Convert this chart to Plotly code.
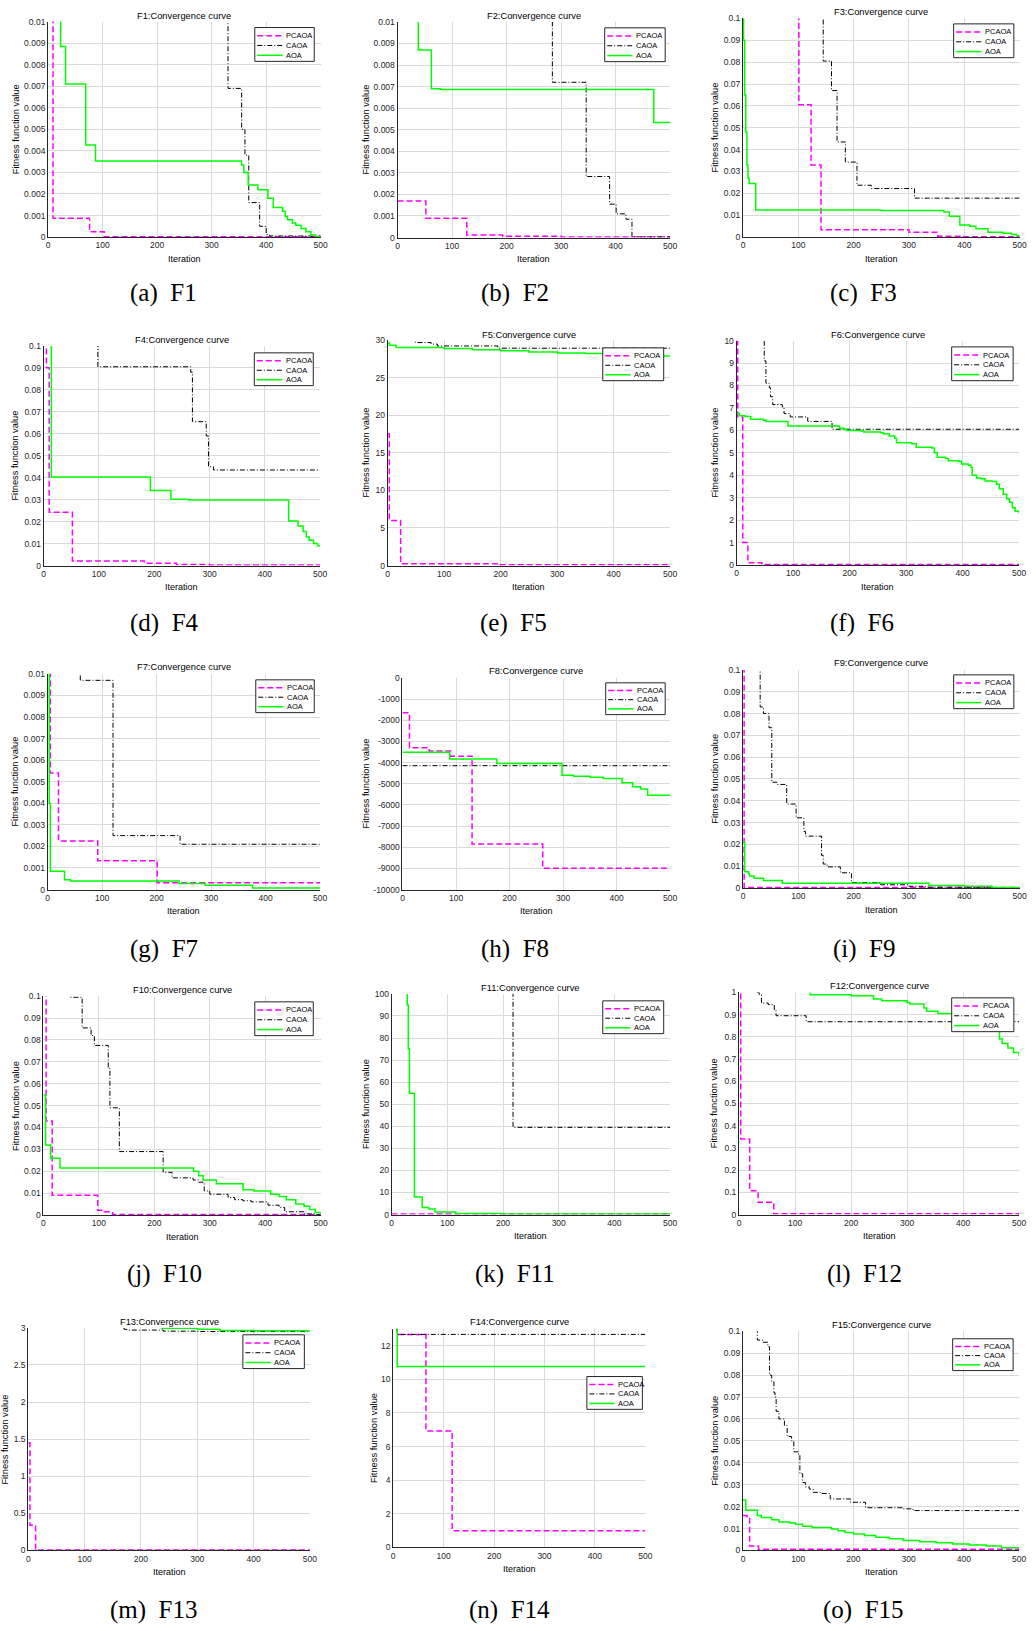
import plotly.graph_objects as go

W, H = 1036, 1631

FUNCS = ["F1", "F2", "F3", "F4", "F5", "F6", "F7", "F8", "F9", "F10", "F11", "F12", "F13", "F14", "F15"]
LETTERS = ["a", "b", "c", "d", "e", "f", "g", "h", "i", "j", "k", "l", "m", "n", "o"]
ALGOS = ["PCAOA", "CAOA", "AOA"]
X_TICKS = [0, 100, 200, 300, 400, 500]

# ---- step data: (iteration, best fitness) breakpoints ----
F1_PCAOA = [(0, 0.02), (9, 0.00087), (76, 0.00025), (103, 0.00002), (500, 0.00001)]
F1_CAOA = [(0, 0.02), (330, 0.0069), (355, 0.005), (361, 0.0038), (368, 0.0016), (388, 0.0005),
           (400, 0.00012), (406, 0.00005), (500, 0.00005)]
F1_AOA = [(0, 0.02), (23, 0.00885), (32, 0.0071), (69, 0.00427), (87, 0.00353), (355, 0.00335),
          (359, 0.003), (367, 0.00242), (385, 0.0022), (403, 0.0018), (413, 0.00137), (430, 0.0012),
          (435, 0.00095), (439, 0.0008), (448, 0.00065), (454, 0.00055), (464, 0.0004), (473, 0.00025),
          (482, 0.0001), (491, 0.00002), (500, 0.00002)]

F2_PCAOA = [(0, 0.0017), (52, 0.0009), (127, 0.00012), (193, 0.00006), (300, 0.00003), (500, 0.00003)]
F2_CAOA = [(0, 0.02), (284, 0.0072), (346, 0.00283), (389, 0.00155), (401, 0.0011), (419, 0.00085),
           (430, 0.00003), (500, 0.00003)]
F2_AOA = [(0, 0.02), (38, 0.0087), (62, 0.0069), (79, 0.00686), (470, 0.00534), (500, 0.00534)]

F3_PCAOA = [(0, 0.2), (101, 0.0605), (123, 0.033), (141, 0.0033), (300, 0.0022), (352, 0.0004),
            (395, 0.0001), (500, 0.0001)]
F3_CAOA = [(0, 0.2), (145, 0.0805), (160, 0.067), (170, 0.0435), (185, 0.0343), (206, 0.0237),
           (232, 0.0222), (310, 0.0178), (500, 0.0178)]
F3_AOA = [(0, 0.2), (1, 0.09), (3, 0.065), (5, 0.048), (7, 0.033), (9, 0.027), (11, 0.0245),
          (23, 0.0124), (250, 0.0122), (363, 0.0115), (373, 0.0095), (392, 0.0055), (410, 0.005),
          (421, 0.0038), (443, 0.0022), (470, 0.0018), (485, 0.0012), (495, 0.0006), (500, 0.0006)]

F4_PCAOA = [(0, 0.2), (5, 0.09), (10, 0.0243), (52, 0.0021), (182, 0.0011), (240, 0.0005),
            (300, 0.0003), (500, 0.0003)]
F4_CAOA = [(0, 0.2), (98, 0.0905), (266, 0.088), (269, 0.0655), (294, 0.059), (298, 0.045),
           (307, 0.0435), (500, 0.0435)]
F4_AOA = [(0, 0.2), (14, 0.0403), (193, 0.0342), (230, 0.0302), (262, 0.0298), (443, 0.0203),
          (460, 0.018), (469, 0.0155), (475, 0.013), (480, 0.0115), (488, 0.01), (495, 0.009), (500, 0.009)]

F5_PCAOA = [(0, 17.5), (3, 6.0), (23, 0.25), (200, 0.1), (500, 0.1)]
F5_CAOA = [(0, 31), (49, 29.65), (77, 29.45), (88, 29.2), (195, 28.9), (500, 28.9)]
F5_AOA = [(0, 29.6), (3, 29.3), (15, 29.0), (100, 28.85), (150, 28.7), (200, 28.55), (250, 28.4),
          (300, 28.25), (350, 28.2), (400, 28.1), (450, 28.0), (480, 27.85), (500, 27.8)]

F6_PCAOA = [(0, 12), (2, 6.6), (11, 1.0), (20, 0.1), (45, 0.02), (500, 0.02)]
F6_CAOA = [(0, 15), (48, 10), (49, 9.1), (52, 8.1), (58, 7.9), (60, 7.5), (64, 7.15), (81, 7.05),
           (84, 6.75), (95, 6.6), (126, 6.4), (169, 6.05), (500, 6.05)]
F6_AOA = [(0, 6.75), (5, 6.65), (15, 6.62), (25, 6.5), (48, 6.45), (52, 6.4), (91, 6.2), (182, 6.1),
          (190, 6.05), (195, 6.0), (220, 5.97), (225, 5.93), (255, 5.9), (260, 5.85), (270, 5.75),
          (280, 5.65), (283, 5.45), (310, 5.4), (318, 5.25), (346, 5.22), (350, 5.0), (355, 4.8),
          (370, 4.75), (375, 4.65), (393, 4.62), (398, 4.5), (410, 4.45), (415, 4.35), (417, 4.0),
          (425, 3.88), (432, 3.85), (440, 3.75), (452, 3.72), (460, 3.6), (465, 3.4), (472, 3.15),
          (478, 2.95), (483, 2.8), (488, 2.55), (493, 2.4), (500, 2.3)]

F7_PCAOA = [(0, 0.02), (5, 0.0054), (20, 0.00225), (92, 0.00133), (201, 0.00032), (500, 0.00032)]
F7_CAOA = [(0, 0.02), (60, 0.0097), (120, 0.0025), (243, 0.0021), (500, 0.0021)]
F7_AOA = [(0, 0.02), (3, 0.004), (5, 0.00085), (31, 0.00045), (42, 0.0004), (241, 0.00028),
          (289, 0.0002), (376, 0.00007), (500, 0.00007)]

F8_PCAOA = [(0, -1650), (13, -3300), (50, -3450), (90, -3700), (130, -7850), (262, -9000), (500, -9000)]
F8_CAOA = [(0, -4150), (500, -4150)]
F8_AOA = [(0, -3520), (88, -3830), (176, -4050), (298, -4600), (320, -4650), (350, -4700),
          (375, -4750), (410, -4950), (430, -5150), (445, -5250), (458, -5550), (500, -5550)]

F9_PCAOA = [(0, 0.2), (2, 0.0002), (500, 0.0001)]
F9_CAOA = [(0, 0.2), (31, 0.083), (37, 0.080), (47, 0.0735), (52, 0.0485), (61, 0.0475), (79, 0.0385),
           (96, 0.0322), (110, 0.026), (113, 0.0238), (142, 0.015), (145, 0.011), (152, 0.0097),
           (176, 0.007), (196, 0.0025), (249, 0.0015), (300, 0.0008), (330, 0.0004), (400, 0.0001),
           (500, 0.0001)]
F9_AOA = [(0, 0.021), (3, 0.0075), (10, 0.0065), (12, 0.0055), (20, 0.0045), (37, 0.0035),
          (71, 0.0022), (336, 0.0012), (400, 0.0008), (450, 0.0002), (500, 0.0002)]

F10_PCAOA = [(0, 0.2), (5, 0.043), (16, 0.009), (98, 0.0022), (110, 0.0015), (125, 0.0003), (500, 0.0003)]
F10_CAOA = [(0, 0.2), (48, 0.0995), (70, 0.0855), (86, 0.082), (92, 0.0775), (117, 0.067), (120, 0.049),
            (137, 0.029), (216, 0.0195), (232, 0.017), (270, 0.016), (280, 0.015), (290, 0.011),
            (300, 0.0095), (333, 0.008), (345, 0.007), (360, 0.0065), (375, 0.006), (405, 0.0045),
            (425, 0.0035), (435, 0.0015), (470, 0.0005), (490, 0.0001), (500, 0.0001)]
F10_AOA = [(0, 0.055), (4, 0.032), (13, 0.026), (30, 0.0215), (271, 0.02), (280, 0.018), (288, 0.016),
           (312, 0.0143), (360, 0.0115), (380, 0.011), (410, 0.0095), (425, 0.0085), (438, 0.007),
           (455, 0.005), (470, 0.004), (480, 0.0025), (490, 0.0012), (500, 0.0002)]

F11_PCAOA = [(0, 0.2), (500, 0.2)]
F11_CAOA = [(0, 200), (218, 39.5), (500, 39.5)]
F11_AOA = [(0, 200), (28, 95), (30, 75), (32, 55), (41, 8), (55, 3.2), (67, 2.5), (78, 1.2),
           (115, 0.5), (200, 0.3), (500, 0.3)]

F12_PCAOA = [(0, 2), (3, 0.34), (19, 0.107), (34, 0.055), (62, 0.003), (500, 0.003)]
F12_CAOA = [(0, 2), (30, 1.0), (36, 0.99), (40, 0.952), (52, 0.945), (63, 0.92), (66, 0.895),
            (120, 0.868), (500, 0.868)]
F12_AOA = [(0, 2), (127, 0.99), (200, 0.985), (240, 0.97), (255, 0.963), (300, 0.955), (305, 0.948),
           (330, 0.93), (335, 0.915), (355, 0.905), (380, 0.9), (400, 0.88), (420, 0.86), (440, 0.84),
           (455, 0.83), (465, 0.79), (470, 0.77), (480, 0.75), (490, 0.73), (500, 0.715)]

F13_PCAOA = [(0, 1.45), (3, 0.34), (13, 0.005), (500, 0.005)]
F13_CAOA = [(0, 4), (170, 2.98), (175, 2.97), (240, 2.955), (300, 2.95), (500, 2.95)]
F13_AOA = [(0, 4), (238, 2.995), (300, 2.98), (340, 2.965), (400, 2.96), (500, 2.96)]

F14_PCAOA = [(0, 14), (8, 12.67), (65, 6.93), (117, 1.0), (500, 1.0)]
F14_CAOA = [(0, 14), (8, 12.67), (500, 12.67)]
F14_AOA = [(0, 14), (8, 10.76), (500, 10.76)]

F15_PCAOA = [(0, 0.016), (7, 0.0155), (10, 0.015), (12, 0.002), (28, 0.0005), (500, 0.0005)]
F15_CAOA = [(0, 0.2), (26, 0.096), (36, 0.095), (45, 0.093), (48, 0.08), (52, 0.077), (56, 0.072),
            (58, 0.07), (60, 0.0635), (65, 0.06), (75, 0.057), (80, 0.052), (88, 0.05), (92, 0.045),
            (100, 0.044), (103, 0.035), (108, 0.031), (113, 0.029), (120, 0.028), (127, 0.0265),
            (140, 0.026), (158, 0.0235), (195, 0.022), (222, 0.0195), (290, 0.019), (308, 0.0182),
            (500, 0.0182)]
F15_AOA = [(0, 0.023), (5, 0.0183), (26, 0.016), (33, 0.015), (52, 0.014), (65, 0.013), (85, 0.0125),
           (95, 0.012), (108, 0.011), (125, 0.0105), (160, 0.0098), (172, 0.009), (185, 0.0082),
           (200, 0.0075), (220, 0.0068), (240, 0.006), (265, 0.0053), (290, 0.0045), (320, 0.004),
           (350, 0.0035), (380, 0.003), (410, 0.0025), (440, 0.002), (468, 0.0012), (500, 0.0012)]

Y_RANGES = [[0, 0.01], [0, 0.01], [0, 0.1], [0, 0.1], [0, 30], [0, 10], [0, 0.01], [-10000, 0],
            [0, 0.1], [0, 0.1], [0, 100], [0, 1], [0, 3], [0, 13], [0, 0.1]]
Y_DTICKS = [0.001, 0.001, 0.01, 0.01, 5, 1, 0.001, 1000, 0.01, 0.01, 10, 0.1, 0.5, 2, 0.01]
F8_TICKS = [-10000, -9000, -8000, -7000, -6000, -5000, -4000, -3000, -2000, -1000, 0]

SERIES = [
    (F1_PCAOA, F1_CAOA, F1_AOA), (F2_PCAOA, F2_CAOA, F2_AOA), (F3_PCAOA, F3_CAOA, F3_AOA),
    (F4_PCAOA, F4_CAOA, F4_AOA), (F5_PCAOA, F5_CAOA, F5_AOA), (F6_PCAOA, F6_CAOA, F6_AOA),
    (F7_PCAOA, F7_CAOA, F7_AOA), (F8_PCAOA, F8_CAOA, F8_AOA), (F9_PCAOA, F9_CAOA, F9_AOA),
    (F10_PCAOA, F10_CAOA, F10_AOA), (F11_PCAOA, F11_CAOA, F11_AOA), (F12_PCAOA, F12_CAOA, F12_AOA),
    (F13_PCAOA, F13_CAOA, F13_AOA), (F14_PCAOA, F14_CAOA, F14_AOA), (F15_PCAOA, F15_CAOA, F15_AOA),
]

# ---- layout (pixels): plot boxes (left, right, top, bottom) ----
PANELS = [
    (46.5, 321.5, 16.7, 233.5), (399, 674, 17, 234), (747.5, 1026.5, 13.5, 233.5),
    (42, 321, 343, 564), (389, 674, 337, 564), (741, 1026, 337.7, 563.5),
    (46, 321, 673, 890), (404, 674, 677, 890), (747.5, 1026.5, 669, 888.5),
    (41.7, 321.5, 997.3, 1217.5), (393, 674, 995, 1217), (743.5, 1026, 993.5, 1217),
    (26.5, 310.6, 1331, 1555), (394.6, 649, 1332, 1552), (747.5, 1026, 1334.5, 1555),
]
TITLE_Y = [11, 11, 6.7, 337, 332, 332, 666, 670, 662, 991, 989, 987, 1325, 1325, 1328]
YLABEL_X = [14, 367, 719, 13, 367, 719, 13, 367, 719, 13.5, 367, 719, 3.5, 375, 719]
CAPTION_Y = [290, 290, 290, 622, 622, 622, 950, 950, 950, 1277, 1277, 1277, 1615, 1615, 1615]
CAPTION_X = [163, 517, 869, 164, 516, 868, 163, 517, 870, 164, 517, 870, 153, 512, 869]
LEGEND_BOX = [
    (255, 22.7, 315, 56.7), (608, 23, 669, 57), (960, 19, 1020.7, 53),
    (254.5, 350, 314, 383), (606, 345, 667.5, 378), (958, 344, 1020, 378),
    (256, 679, 315, 712), (609, 682, 669, 714), (960, 674, 1020.7, 708),
    (255, 1003, 314, 1037), (606, 1002, 667.5, 1035), (958, 999, 1020.7, 1033),
    (243, 1338, 305, 1372), (590, 1380, 646, 1413), (959, 1342, 1020, 1374),
]

STYLES = {
    "PCAOA": dict(color="#ff00ff", width=1.5, dash="6px,3px"),
    "CAOA": dict(color="#000000", width=1.0, dash="5px,2px,1px,2px"),
    "AOA": dict(color="#00ff00", width=1.5, dash="solid"),
}

AX_COLOR = "#262626"
GRID_COLOR = "#dadada"
SANS = "Liberation Sans, Arial, sans-serif"


def px(x):
    return x / W


def py(y):
    return 1 - y / H


fig = go.Figure()
layout = dict(width=W, height=H, margin=dict(l=0, r=0, t=0, b=0),
              paper_bgcolor="white", plot_bgcolor="white", showlegend=False)
annotations = []
shapes = []

for i, fname in enumerate(FUNCS):
    n = i + 1
    xs = "x" if n == 1 else f"x{n}"
    ys = "y" if n == 1 else f"y{n}"
    xa = "xaxis" if n == 1 else f"xaxis{n}"
    ya = "yaxis" if n == 1 else f"yaxis{n}"
    l, r, t, b = PANELS[i]

    for algo, steps in zip(ALGOS, SERIES[i]):
        fig.add_trace(go.Scatter(
            x=[p[0] for p in steps], y=[p[1] for p in steps],
            xaxis=xs, yaxis=ys, mode="lines", name=algo,
            line=dict(shape="hv", **STYLES[algo]), showlegend=False, hoverinfo="skip"))

    layout[xa] = dict(domain=[px(l), px(r)], anchor=ys, range=[0, 500], tickvals=X_TICKS,
                      showgrid=True, gridcolor=GRID_COLOR, gridwidth=1, zeroline=False,
                      showline=True, linecolor=AX_COLOR, linewidth=1, ticks="",
                      tickfont=dict(family=SANS, size=8.5, color=AX_COLOR))
    y0, y1 = Y_RANGES[i]
    yax = dict(domain=[py(b), py(t)], anchor=xs, range=[y0, y1], tick0=0, dtick=Y_DTICKS[i],
               showgrid=True, gridcolor=GRID_COLOR, gridwidth=1, zeroline=False,
               showline=True, linecolor=AX_COLOR, linewidth=1, ticks="",
               exponentformat="none", separatethousands=False,
               tickfont=dict(family=SANS, size=8.5, color=AX_COLOR))
    if fname == "F8":
        yax["tickvals"] = F8_TICKS
        yax["ticktext"] = [str(v) for v in F8_TICKS]
    layout[ya] = yax

    cx = (l + r) / 2
    annotations.append(dict(text=f"{fname}:Convergence curve", x=px(cx), y=py(TITLE_Y[i]),
                            xref="paper", yref="paper", xanchor="center", yanchor="middle",
                            showarrow=False, font=dict(family=SANS, size=9.3, color="#000000")))
    annotations.append(dict(text="Fitness function value", x=px(YLABEL_X[i]), y=py((t + b) / 2),
                            xref="paper", yref="paper", xanchor="center", yanchor="middle",
                            textangle=-90, showarrow=False,
                            font=dict(family=SANS, size=9.3, color="#000000")))
    annotations.append(dict(text="Iteration", x=px(cx), y=py(b + 22),
                            xref="paper", yref="paper", xanchor="center", yanchor="middle",
                            showarrow=False, font=dict(family=SANS, size=9, color="#000000")))
    annotations.append(dict(text=f"({LETTERS[i]})\u2002{fname}", x=px(CAPTION_X[i]), y=py(CAPTION_Y[i]),
                            xref="paper", yref="paper", xanchor="center", yanchor="middle",
                            showarrow=False,
                            font=dict(family="Liberation Serif, Times New Roman, serif", size=25,
                                      color="#000000")))
    lx0, ly0, lx1, ly1 = LEGEND_BOX[i]
    shapes.append(dict(type="rect", xref="paper", yref="paper", x0=px(lx0), x1=px(lx1),
                       y0=py(ly1), y1=py(ly0), fillcolor="white",
                       line=dict(color=AX_COLOR, width=1), layer="above"))
    hgt = ly1 - ly0
    for k, algo in enumerate(ALGOS):
        rowy = ly0 + hgt * (0.24 + 0.29 * k)
        st = STYLES[algo]
        shapes.append(dict(type="line", xref="paper", yref="paper", x0=px(lx0 + 2.5), x1=px(lx0 + 28),
                           y0=py(rowy), y1=py(rowy), layer="above",
                           line=dict(color=st["color"], width=st["width"], dash=st["dash"])))
        annotations.append(dict(text=algo, x=px(lx0 + 29.5), y=py(rowy), xref="paper", yref="paper",
                                xanchor="left", yanchor="middle", showarrow=False,
                                font=dict(family=SANS, size=7.5, color="#000000")))

layout["annotations"] = annotations
layout["shapes"] = shapes
fig.update_layout(**layout)
fig.write_html("out.html", config={"displayModeBar": False, "staticPlot": True},
               post_script="document.body.style.margin='0';document.body.style.padding='0';"
                           "document.documentElement.style.overflow='hidden';")
